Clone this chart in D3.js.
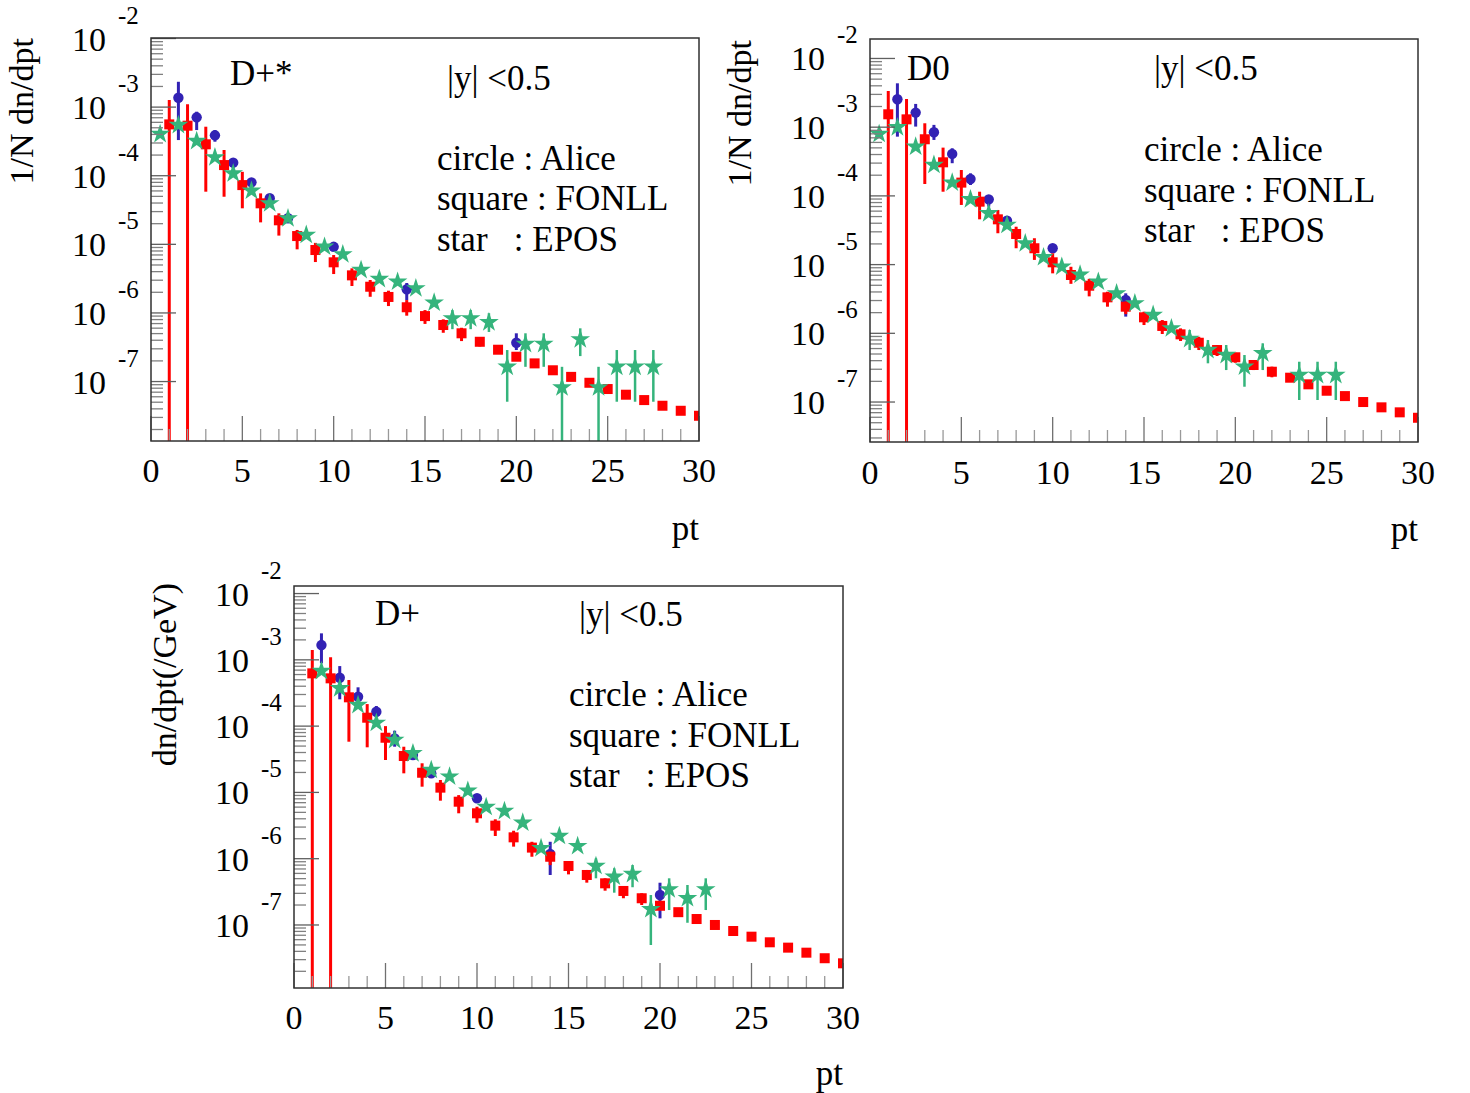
<!DOCTYPE html>
<html><head><meta charset="utf-8">
<script src="https://cdn.jsdelivr.net/npm/d3@7"></script>
<style>
html,body{margin:0;padding:0;background:#fff;}
text{font-family:"Liberation Serif","Times New Roman",serif;fill:#000;}
</style></head><body>
<svg id="c" width="1470" height="1093"></svg>
<script>
// ---------------- DATA ----------------
const fonllPt = [1,2,3,4,5,6,7,8,9,10,11,12,13,14,15,16,17,18,19,20,21,22,23,24,25,26,27,28,29,30];

// D+* (panel 1)
const fonllDstar   = [5.6e-4,5.36e-4,2.87e-4,1.43e-4,7.3e-5,3.96e-5,2.24e-5,1.32e-5,8.26e-6,5.47e-6,3.53e-6,2.41e-6,1.71e-6,1.21e-6,9.0e-7,6.67e-7,5.05e-7,3.8e-7,2.91e-7,2.3e-7,1.84e-7,1.46e-7,1.17e-7,9.6e-8,7.78e-8,6.43e-8,5.37e-8,4.44e-8,3.75e-8,3.17e-8];
const fonllDstarHi = [1.27e-3,1.1e-3,5.18e-4,2.37e-4,1.14e-4,5.53e-5,2.83e-5,1.62e-5,1.05e-5,6.98e-6,4.47e-6,3.02e-6,2.11e-6,1.54e-6,1.10e-6,8.07e-7,6.08e-7,4.45e-7,3.35e-7,2.62e-7,2.08e-7,1.63e-7,1.3e-7,1.06e-7,8.5e-8,7.0e-8,5.8e-8,4.8e-8,4.0e-8,3.4e-8];
const fonllDstarLo = [1e-10,1e-10,5.85e-5,4.94e-5,3.35e-5,2.09e-5,1.34e-5,8.45e-6,5.52e-6,3.69e-6,2.47e-6,1.72e-6,1.26e-6,9.12e-7,6.92e-7,5.14e-7,3.89e-7,3.25e-7,2.55e-7,2.02e-7,1.63e-7,1.3e-7,1.05e-7,8.7e-8,7.1e-8,5.9e-8,4.95e-8,4.1e-8,3.5e-8,2.95e-8];
const alicePtDstar = [1.5,2.5,3.5,4.5,5.5,6.5,7.5,10,14,20];
const aliceDstar   = [1.37e-3,7.1e-4,3.88e-4,1.55e-4,8.0e-5,4.7e-5,2.4e-5,9.2e-6,2.21e-6,3.68e-7];
const aliceDstarHi = [2.34e-3,8.57e-4,4.63e-4,1.81e-4,9.2e-5,5.3e-5,2.75e-5,1.05e-5,2.73e-6,5.05e-7];
const aliceDstarLo = [3.31e-4,4.63e-4,3.13e-4,1.29e-4,7.0e-5,4.15e-5,2.1e-5,8.0e-6,1.54e-6,2.88e-7];
const eposPtDstar = [0.5,1.5,2.5,3.5,4.5,5.5,6.5,7.5,8.5,9.5,10.5,11.5,12.5,13.5,14.5,15.5,16.5,17.5,18.5,19.5,20.5,21.5,22.5,23.5,24.5,25.5,26.5,27.5];
const eposDstar   = [4.05e-4,5.48e-4,3.2e-4,1.85e-4,1.08e-4,6.04e-5,3.96e-5,2.39e-5,1.37e-5,9.23e-6,7.14e-6,4.22e-6,3.12e-6,2.85e-6,2.28e-6,1.41e-6,8.34e-7,8.34e-7,7.3e-7,1.64e-7,3.52e-7,3.52e-7,8.2e-8,4.12e-7,8.2e-8,1.64e-7,1.64e-7,1.64e-7];
const eposDstarHi = [null,null,null,null,null,null,null,null,null,null,null,null,null,null,null,null,1.1e-6,1.1e-6,9.9e-7,2.88e-7,5.05e-7,5.05e-7,1.64e-7,5.97e-7,1.64e-7,2.88e-7,2.88e-7,2.88e-7];
const eposDstarLo = [null,null,null,null,null,null,null,null,null,null,null,null,null,null,null,null,5.8e-7,5.8e-7,5.28e-7,5.08e-8,1.64e-7,1.64e-7,1e-10,2.35e-7,1e-10,5.08e-8,5.08e-8,5.08e-8];

// D0 (panel 2)
const fonllD0   = [1.54e-3,1.30e-3,6.67e-4,3.08e-4,1.56e-4,8.24e-5,4.56e-5,2.79e-5,1.73e-5,1.08e-5,7.06e-6,4.93e-6,3.34e-6,2.44e-6,1.71e-6,1.28e-6,9.66e-7,7.29e-7,5.71e-7,4.48e-7,3.46e-7,2.76e-7,2.26e-7,1.81e-7,1.46e-7,1.22e-7,1.0e-7,8.37e-8,7.08e-8,5.9e-8];
const fonllD0Hi = [3.37e-3,2.57e-3,1.14e-3,5.04e-4,2.38e-4,1.15e-4,6.24e-5,3.56e-5,2.42e-5,1.46e-5,9.3e-6,6.2e-6,4.03e-6,2.9e-6,2.06e-6,1.56e-6,1.18e-6,8.9e-7,6.76e-7,5.2e-7,4.08e-7,3.27e-7,2.6e-7,2.08e-7,1.66e-7,1.38e-7,1.13e-7,9.4e-8,7.9e-8,6.6e-8];
const fonllD0Lo = [1e-10,1e-10,1.49e-4,1.15e-4,7.38e-5,4.56e-5,2.86e-5,1.73e-5,1.17e-5,7.46e-6,5.25e-6,3.45e-6,2.44e-6,1.9e-6,1.32e-6,9.77e-7,7.73e-7,5.71e-7,4.68e-7,3.73e-7,2.92e-7,2.29e-7,1.97e-7,1.58e-7,1.28e-7,1.08e-7,8.85e-8,7.45e-8,6.3e-8,5.25e-8];
const alicePtD0 = [1.5,2.5,3.5,4.5,5.5,6.5,7.5,10,14];
const aliceD0   = [2.55e-3,1.63e-3,8.43e-4,4.08e-4,1.76e-4,8.91e-5,4.35e-5,1.73e-5,3.06e-6];
const aliceD0Hi = [4.35e-3,2.18e-3,1.08e-3,4.93e-4,2.13e-4,1.03e-4,5.0e-5,2.0e-5,3.82e-6];
const aliceD0Lo = [7.28e-4,1.02e-3,6.52e-4,2.99e-4,1.44e-4,6.97e-5,3.75e-5,1.5e-5,1.75e-6];
const eposPtD0 = [0.5,1.5,2.5,3.5,4.5,5.5,6.5,7.5,8.5,9.5,10.5,11.5,12.5,13.5,14.5,15.5,16.5,17.5,18.5,19.5,20.5,21.5,23.5,24.5,25.5];
const eposD0   = [7.96e-4,9.97e-4,5.2e-4,2.82e-4,1.56e-4,8.93e-5,5.58e-5,3.77e-5,2.04e-5,1.28e-5,9.31e-6,7.13e-6,5.63e-6,3.82e-6,2.73e-6,1.85e-6,1.18e-6,8.26e-7,5.71e-7,4.83e-7,3.27e-7,5.12e-7,2.47e-7,2.47e-7,2.47e-7];
const eposD0Hi = [null,null,null,null,null,null,null,null,null,null,null,null,null,null,null,null,null,1.12e-6,7.98e-7,6.75e-7,4.83e-7,7.15e-7,3.86e-7,3.86e-7,3.86e-7];
const eposD0Lo = [null,null,null,null,null,null,null,null,null,null,null,null,null,null,null,null,null,5.71e-7,3.66e-7,2.92e-7,1.67e-7,2.92e-7,1.07e-7,1.07e-7,1.07e-7];

// D+ (panel 3)
const fonllDplus   = [6.25e-4,5.26e-4,2.72e-4,1.34e-4,6.68e-5,3.54e-5,1.98e-5,1.18e-5,7.24e-6,4.84e-6,3.15e-6,2.1e-6,1.47e-6,1.07e-6,7.76e-7,5.68e-7,4.25e-7,3.26e-7,2.53e-7,1.95e-7,1.56e-7,1.23e-7,1.0e-7,8.11e-8,6.66e-8,5.48e-8,4.55e-8,3.82e-8,3.15e-8,2.64e-8];
const fonllDplusHi = [1.41e-3,1.09e-3,4.96e-4,2.15e-4,1.0e-4,4.89e-5,2.75e-5,1.54e-5,9.1e-6,6.08e-6,3.93e-6,2.64e-6,1.8e-6,1.28e-6,9.2e-7,6.76e-7,5.06e-7,3.87e-7,3.01e-7,2.25e-7,1.78e-7,1.4e-7,1.13e-7,9.1e-8,7.45e-8,6.1e-8,5.05e-8,4.25e-8,3.5e-8,2.92e-8];
const fonllDplusLo = [1e-10,1e-10,5.82e-5,4.79e-5,3.08e-5,1.94e-5,1.22e-5,7.5e-6,4.84e-6,3.49e-6,2.2e-6,1.52e-6,1.07e-6,8.0e-7,5.8e-7,4.35e-7,3.29e-7,2.53e-7,2.0e-7,1.7e-7,1.37e-7,1.09e-7,8.9e-8,7.2e-8,5.95e-8,4.9e-8,4.1e-8,3.45e-8,2.85e-8,2.4e-8];
const alicePtDplus = [1.5,2.5,3.5,4.5,5.5,6.5,7.5,10,14,20];
const aliceDplus   = [1.67e-3,5.37e-4,2.77e-4,1.65e-4,6.54e-5,3.66e-5,1.94e-5,8.15e-6,1.18e-6,2.83e-7];
const aliceDplusHi = [2.51e-3,8.05e-4,3.85e-4,2.01e-4,8.53e-5,4.2e-5,2.2e-5,9.2e-6,1.8e-6,4.34e-7];
const aliceDplusLo = [8.85e-4,2.54e-4,2.01e-4,1.36e-4,4.89e-5,3.2e-5,1.7e-5,7.2e-6,5.68e-7,1.26e-7];
const eposPtDplus = [1.5,2.5,3.5,4.5,5.5,6.5,7.5,8.5,9.5,10.5,11.5,12.5,13.5,14.5,15.5,16.5,17.5,18.5,19.5,20.5,21.5,22.5];
const eposDplus   = [6.78e-4,3.72e-4,2.08e-4,1.12e-4,6.17e-5,3.89e-5,2.18e-5,1.73e-5,1.06e-5,6.03e-6,5.24e-6,3.49e-6,1.44e-6,2.2e-6,1.55e-6,7.76e-7,5.35e-7,5.87e-7,1.73e-7,3.45e-7,2.53e-7,3.45e-7];
const eposDplusHi = [null,null,null,null,null,null,null,null,null,null,null,null,null,null,null,1.01e-6,7.16e-7,8.03e-7,2.83e-7,5.06e-7,4.01e-7,5.06e-7];
const eposDplusLo = [null,null,null,null,null,null,null,null,null,null,null,null,null,null,null,5.06e-7,3.07e-7,3.71e-7,4.99e-8,1.68e-7,1.08e-7,1.68e-7];

const xTickLabels = ["0","5","10","15","20","25","30"];
const legendLines = ["circle : Alice","square : FONLL","star   : EPOS"];
const rapidityText = "|y| <0.5";

// ---------------- LAYOUT ----------------
const panels = [
  {title:"D+*", ytitle:"1/N dn/dpt", fx:151, fy:38, fw:548, fh:403, yMax:1.017e-2, yMin:1.36e-8,
   fonll:[fonllDstar,fonllDstarHi,fonllDstarLo], aliceX:alicePtDstar, alice:[aliceDstar,aliceDstarHi,aliceDstarLo],
   eposX:eposPtDstar, epos:[eposDstar,eposDstarHi,eposDstarLo],
   titlePos:[230,85], yPos:[447,90], legPos:[437,170], legStep:40.3, xlabBase:482, ptBase:540, ytX:33, ytEnd:38},
  {title:"D0", ytitle:"1/N dn/dpt", fx:870, fy:39, fw:548, fh:403, yMax:1.92e-2, yMin:2.62e-8,
   fonll:[fonllD0,fonllD0Hi,fonllD0Lo], aliceX:alicePtD0, alice:[aliceD0,aliceD0Hi,aliceD0Lo],
   eposX:eposPtD0, epos:[eposD0,eposD0Hi,eposD0Lo],
   titlePos:[907,80], yPos:[1154,80], legPos:[1144,161], legStep:40.5, xlabBase:484, ptBase:541, ytX:751, ytEnd:40},
  {title:"D+", ytitle:"dn/dpt(/GeV)", fx:294, fy:586, fw:549, fh:402, yMax:1.30e-2, yMin:1.12e-8,
   fonll:[fonllDplus,fonllDplusHi,fonllDplusLo], aliceX:alicePtDplus, alice:[aliceDplus,aliceDplusHi,aliceDplusLo],
   eposX:eposPtDplus, epos:[eposDplus,eposDplusHi,eposDplusLo],
   titlePos:[375,625], yPos:[579,626], legPos:[569,706], legStep:40.5, xlabBase:1029, ptBase:1085, ytX:176, ytEnd:583}
];

const RED="#ff0000", BLUE="#3222b4", GREEN="#35b47c";

const svg = d3.select("#c");
svg.append("rect").attr("width",1470).attr("height",1093).attr("fill","#fff");

panels.forEach((p,pi)=>{
  const x = d3.scaleLinear().domain([0,30]).range([p.fx, p.fx+p.fw]);
  const y = d3.scaleLog().domain([p.yMin,p.yMax]).range([p.fy+p.fh, p.fy]);
  const cid = "clip"+pi;
  svg.append("clipPath").attr("id",cid).append("rect")
     .attr("x",p.fx).attr("y",p.fy).attr("width",p.fw).attr("height",p.fh);
  const g = svg.append("g").attr("clip-path",`url(#${cid})`);

  const yc = v => y(Math.max(v, p.yMin/100));

  function errBars(xs, vals, his, los, color, w){
    const d = xs.map((xx,i)=>({x:xx,hi:his[i],lo:los[i]})).filter(e=>e.hi!=null);
    g.append("g").selectAll("line").data(d).join("line")
      .attr("x1",e=>x(e.x)).attr("x2",e=>x(e.x))
      .attr("y1",e=>yc(e.hi)).attr("y2",e=>yc(e.lo))
      .attr("stroke",color).attr("stroke-width",w);
  }
  // Alice (blue)
  errBars(p.aliceX, p.alice[0], p.alice[1], p.alice[2], BLUE, 3);
  g.append("g").selectAll("circle").data(p.aliceX.map((xx,i)=>({x:xx,v:p.alice[0][i]}))).join("circle")
    .attr("cx",d=>x(d.x)).attr("cy",d=>y(d.v)).attr("r",5.2).attr("fill",BLUE);
  // FONLL (red)
  errBars(fonllPt, p.fonll[0], p.fonll[1], p.fonll[2], RED, 3);
  g.append("g").selectAll("rect").data(fonllPt.map((xx,i)=>({x:xx,v:p.fonll[0][i]}))).join("rect")
    .attr("x",d=>x(d.x)-5).attr("y",d=>y(d.v)-5).attr("width",10).attr("height",10).attr("fill",RED);
  // EPOS (green)
  errBars(p.eposX, p.epos[0], p.epos[1], p.epos[2], GREEN, 2.5);
  const star = d3.symbol().type(d3.symbolStar).size(120);
  g.append("g").selectAll("path").data(p.eposX.map((xx,i)=>({x:xx,v:p.epos[0][i]}))).join("path")
    .attr("d",star).attr("transform",d=>`translate(${x(d.x)},${y(d.v)})`).attr("fill",GREEN);

  // x ticks
  const ax = svg.append("g");
  x.ticks(30).forEach(t=>{
    const major = Math.abs(t%5)<1e-9;
    ax.append("line").attr("x1",x(t)).attr("x2",x(t))
      .attr("y1",p.fy+p.fh).attr("y2",p.fy+p.fh-(major?25:12))
      .attr("stroke",major?"#707070":"#999").attr("stroke-width",1.3);
  });
  // y ticks
  y.ticks().forEach(t=>{
    const k = Math.round(Math.log10(t));
    const major = Math.abs(t-Math.pow(10,k))/t < 1e-6;
    ax.append("line").attr("x1",p.fx).attr("x2",p.fx+(major?25:12))
      .attr("y1",y(t)).attr("y2",y(t))
      .attr("stroke",major?"#606060":"#808080").attr("stroke-width",1.3);
    if(major){
      ax.append("text").attr("x",p.fx-45).attr("y",y(t)+12).attr("text-anchor","end")
        .attr("font-size",34).text("10");
      ax.append("text").attr("x",p.fx-33).attr("y",y(t)-15).attr("text-anchor","start")
        .attr("font-size",25).text(String(k));
    }
  });
  // frame
  svg.append("rect").attr("x",p.fx).attr("y",p.fy).attr("width",p.fw).attr("height",p.fh)
     .attr("fill","none").attr("stroke","#303030").attr("stroke-width",1.5);

  // x tick labels
  xTickLabels.forEach(s=>{
    svg.append("text").attr("x",x(+s)).attr("y",p.xlabBase).attr("text-anchor","middle")
      .attr("font-size",34).text(s);
  });
  // axis titles
  svg.append("text").attr("x",p.fx+p.fw).attr("y",p.ptBase).attr("text-anchor","end")
     .attr("font-size",35).text("pt");
  svg.append("text").attr("transform",`translate(${p.ytX},${p.ytEnd}) rotate(-90)`)
     .attr("text-anchor","end").attr("font-size",34).text(p.ytitle);

  // in-frame texts
  svg.append("text").attr("x",p.titlePos[0]).attr("y",p.titlePos[1]).attr("font-size",35).text(p.title);
  svg.append("text").attr("x",p.yPos[0]).attr("y",p.yPos[1]).attr("font-size",35).text(rapidityText);
  legendLines.forEach((s,i)=>{
    svg.append("text").attr("x",p.legPos[0]).attr("y",p.legPos[1]+i*p.legStep)
      .attr("font-size",35).style("white-space","pre").text(s);
  });
});
</script>
</body></html>
